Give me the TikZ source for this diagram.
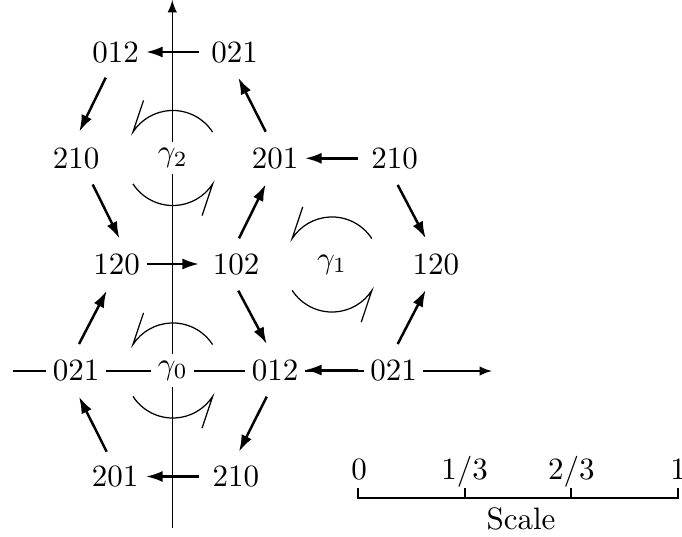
\documentclass[tikz,border=0pt]{standalone}
\usetikzlibrary{arrows.meta}
\begin{document}
\begin{tikzpicture}[x=0.32258pt,y=-0.32258pt,
  lab/.style={fill=white,inner sep=2.1pt},
  arr/.style={thick,-{Latex[length=5.4pt,width=3.6pt]}},
  axisline/.style={thin,-latex},
  rot/.style={thin},
  scalebar/.style={semithick},
  ticklab/.style={anchor=base,inner sep=0pt}]
\useasboundingbox (0,0) rectangle (682,537);
% axes
\coordinate (vbot) at (172.3,528);
\coordinate (vtop) at (172.3,0);
\coordinate (hleft) at (13.3,371);
\coordinate (hright) at (492,371);
\draw[axisline] (vbot) -- (vtop);
\draw[axisline] (hleft) -- (hright);
% nodes
\node[lab] (n012a) at (115.5,53) {012};
\node[lab] (n021a) at (234.7,53) {021};
\node[lab] (n210a) at (76,159) {210};
\node[lab] (g2) at (172.8,158) {$\gamma_2$};
\node[lab] (n201a) at (275,159) {201};
\node[lab] (n210b) at (394.5,159) {210};
\node[lab] (n120a) at (116.7,265) {120};
\node[lab] (n102) at (236,265) {102};
\node[lab] (g1) at (332,264.5) {$\gamma_1$};
\node[lab] (n120b) at (435.8,265) {120};
\node[lab] (n021b) at (76,371) {021};
\node[lab] (g0) at (172.8,370.5) {$\gamma_0$};
\node[lab] (n012b) at (275,371) {012};
\node[lab] (n021c) at (393.5,371) {021};
\node[lab] (n201b) at (115,477) {201};
\node[lab] (n210c) at (235.8,477) {210};
% horizontal arrows
\draw[arr] ([shift={(-36,-1)}]n021a.center) -- ([shift={(30.5,-1)}]n012a.center);
\draw[arr] ([shift={(-36.2,-0.7)}]n210b.center) -- ([shift={(30,-0.7)}]n201a.center);
\draw[arr] ([shift={(30,-1)}]n120a.center) -- ([shift={(-37,-1)}]n102.center);
\draw[arr] ([shift={(-35.5,-1)}]n021c.center) -- ([shift={(30,-1)}]n012b.center);
\draw[arr] ([shift={(-36.5,-0.5)}]n210c.center) -- ([shift={(31,-0.5)}]n201b.center);
% diagonal arrows
\draw[arr] ([shift={(-9.8,24.7)}]n012a.center) -- ([shift={(3.3,-27.3)}]n210a.center);
\draw[arr] ([shift={(16.7,25.5)}]n210a.center) -- ([shift={(2.8,-26.5)}]n120a.center);
\draw[arr] ([shift={(-9.3,-27.3)}]n201a.center) -- ([shift={(3.6,24.7)}]n021a.center);
\draw[arr] ([shift={(3,-26.7)}]n102.center) -- ([shift={(-9.3,25.3)}]n201a.center);
\draw[arr] ([shift={(3,-27)}]n021b.center) -- ([shift={(-10,25.7)}]n120a.center);
\draw[arr] ([shift={(2.3,25.7)}]n102.center) -- ([shift={(-8.3,-27)}]n012b.center);
\draw[arr] ([shift={(-8.3,25.7)}]n012b.center) -- ([shift={(3.2,-25.3)}]n210c.center);
\draw[arr] ([shift={(-8.3,-25.3)}]n201b.center) -- ([shift={(3,25.7)}]n021b.center);
\draw[arr] ([shift={(3.2,26)}]n210b.center) -- ([shift={(-10.1,-26.7)}]n120b.center);
\draw[arr] ([shift={(4.2,-27)}]n021c.center) -- ([shift={(-10.1,25)}]n120b.center);
% rotation arcs
\foreach \g in {g0,g1,g2}{
  \draw[rot] ([shift={(39.8,-25.9)}]\g.center) arc[start angle=327,end angle=213,radius=47.5] -- ++(10.6,-31.7);
  \draw[rot] ([shift={(-39.8,25.9)}]\g.center) arc[start angle=147,end angle=33,radius=47.5] -- ++(-10.6,31.7);
}
% scale bar
\coordinate (s0) at (358,498);
\coordinate (s1) at (464.7,498);
\coordinate (s2) at (571.3,498);
\coordinate (s3) at (678,498);
\draw[scalebar] ([shift={(0,-10)}]s0) -- (s0) -- (s3) -- ([shift={(0,-10)}]s3);
\draw[scalebar] (s1) -- ([shift={(0,-10)}]s1);
\draw[scalebar] (s2) -- ([shift={(0,-10)}]s2);
\node[ticklab] (t0) at (359,479.5) {0};
\node[ticklab] (t1) at (464.5,479.5) {1/3};
\node[ticklab] (t2) at (571.3,479.5) {2/3};
\node[ticklab] (t3) at (678,479.5) {1};
\node[ticklab] (scl) at (521,529.5) {Scale};
\end{tikzpicture}
\end{document}
